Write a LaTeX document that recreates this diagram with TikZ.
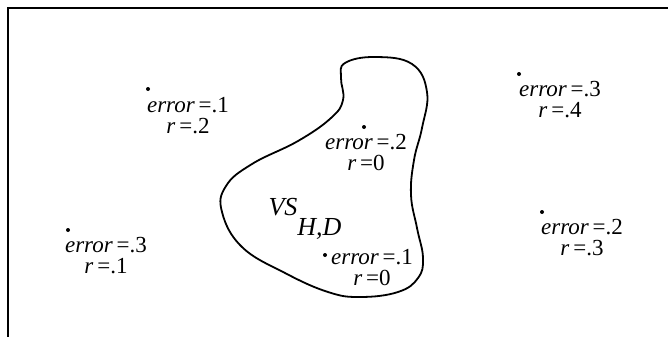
\documentclass[tikz,border=0pt]{standalone}
\usepackage{fontspec}
\setmainfont{Liberation Serif}

\begin{document}
\begin{tikzpicture}[
    x=1pt, y=-1pt,
    hyp/.style={align=center, inner sep=0pt, font=\fontsize{23}{21}\selectfont},
    dot/.style={circle, fill=black, inner sep=0pt, minimum size=4pt},
    frame/.style={line width=1.8pt},
    region/.style={line width=1.8pt}
]
    \useasboundingbox (0,0) rectangle (668,337);
    \draw[frame] (668,8) -- (8,8) -- (8,337);

    % version space boundary
    \draw[region] plot[smooth cycle, tension=0.7] coordinates {
        (345,63) (375,57) (412,64) (427,92) (422,128)
        (414,160) (411,195) (417,228) (423,258) (418,278) (398,292)
        (360,297) (328,292) (285,273) (242,247) (222,212) (226,186)
        (252,164) (298,141) (331,118) (343,100) (341,78)};

    \node[font=\fontsize{26}{26}\selectfont\itshape] (vs) at (305,219) {VS\raisebox{-20pt}{H,D}};

    % hypotheses
    \node[dot] (d1) at (148,89) {};
    \node[hyp] (h1) at (188,116) {\textit{error}\,=.1\\\textit{r}\,=.2};
    \node[dot] (d2) at (364,127) {};
    \node[hyp] (h2) at (366,152) {\textit{error}\,=.2\\\textit{r}\,=0};
    \node[dot] (d3) at (519,74) {};
    \node[hyp] (h3) at (560,100) {\textit{error}\,=.3\\\textit{r}\,=.4};
    \node[dot] (d4) at (68,230) {};
    \node[hyp] (h4) at (106,256) {\textit{error}\,=.3\\\textit{r}\,=.1};
    \node[dot] (d5) at (325,255) {};
    \node[hyp] (h5) at (372,268) {\textit{error}\,=.1\\\textit{r}\,=0};
    \node[dot] (d6) at (542,212) {};
    \node[hyp] (h6) at (582,238) {\textit{error}\,=.2\\\textit{r}\,=.3};
\end{tikzpicture}
\end{document}
